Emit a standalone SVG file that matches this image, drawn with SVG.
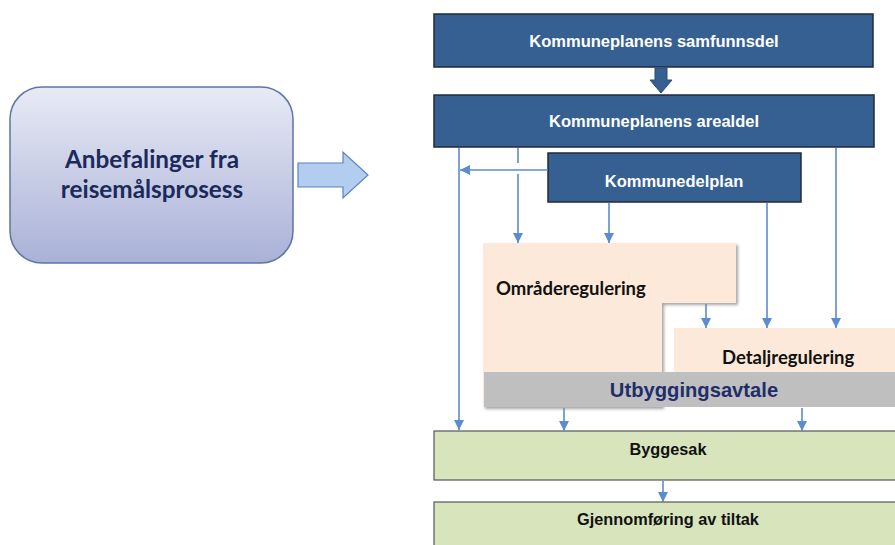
<svg xmlns="http://www.w3.org/2000/svg" width="895" height="545" viewBox="0 0 895 545">
<defs>
<linearGradient id="g1" x1="0" y1="0" x2="0" y2="1">
<stop offset="0" stop-color="#e8eaf5"/>
<stop offset="1" stop-color="#a9b1d7"/>
</linearGradient>
<marker id="ah" viewBox="0 0 10 10" refX="10" refY="5" markerWidth="10" markerHeight="10" markerUnits="userSpaceOnUse" orient="auto">
<path d="M0,0 L10,5 L0,10 z" fill="#5b8ccf"/>
</marker>
<filter id="sh" x="-10%" y="-10%" width="130%" height="130%">
<feDropShadow dx="2" dy="2" stdDeviation="1.5" flood-color="#000" flood-opacity="0.35"/>
</filter>
</defs>
<style>
.dk{fill:#366092;stroke:#1e2a3a;stroke-width:1.5}
.wt{font-family:"Liberation Sans",Arial,sans-serif;font-weight:bold;fill:#ffffff;text-anchor:middle;font-size:16.5px}
.bk{font-family:"Liberation Sans",Arial,sans-serif;font-weight:bold;fill:#111111;text-anchor:middle;font-size:16.3px}
.cal{font-family:Lato,"Open Sans",sans-serif;font-weight:bold;fill:#111111;font-size:18.5px}
.an{font-family:Lato,"Open Sans",sans-serif;font-weight:bold;fill:#1b2a5a;text-anchor:middle;font-size:24.3px}
.gr{fill:#d8e4bc;stroke:#555555;stroke-width:1.2}
.ln{stroke:#5b8ccf;stroke-width:1.6;fill:none}
</style>

<g id="anbefalinger">
<rect x="10" y="87" width="283" height="176" rx="32" ry="32" fill="url(#g1)" stroke="#5d74a6" stroke-width="1.5"/>
<text class="an" x="152" y="168">Anbefalinger fra</text>
<text class="an" x="152" y="198">reisemålsprosess</text>
</g>

<g id="blockarrow">
<path d="M298,163 L343,163 L343,152 L368,175 L343,198 L343,187 L298,187 z" fill="#b3cdf1" stroke="#5b82c0" stroke-width="1.2"/>
</g>

<g id="samfunnsdel">
<rect class="dk" x="434" y="14" width="439" height="53"/>
<text class="wt" x="654" y="47">Kommuneplanens samfunnsdel</text>
</g>

<g id="downarrow">
<path d="M655,68 L667,68 L667,80 L672,80 L661,93 L650,80 L655,80 z" fill="#366092" stroke="#2a4a75" stroke-width="1"/>
</g>

<g id="arealdel">
<rect class="dk" x="434" y="95" width="440" height="52"/>
<text class="wt" x="654" y="127">Kommuneplanens arealdel</text>
</g>

<g id="omraderegulering">
<path d="M483,243 L736,243 L736,303 L662,303 L662,407 L483,407 z" fill="#fde9d9" filter="url(#sh)"/>
<text class="cal" x="496" y="295">Områderegulering</text>
</g>

<g id="detaljregulering">
<rect x="674" y="328" width="221" height="50" fill="#fde9d9"/>
<text class="cal" x="722" y="364">Detaljregulering</text>
</g>

<g id="utbyggingsavtale">
<rect x="484" y="372" width="411" height="35" fill="#bfbfbf"/>
<text x="694" y="397" font-family="'Liberation Sans',Arial,sans-serif" font-weight="bold" font-size="20.2" fill="#1f2d6b" text-anchor="middle">Utbyggingsavtale</text>
</g>

<g id="kommunedelplan">
<rect class="dk" x="548" y="153" width="253" height="49"/>
<text class="wt" x="674" y="187">Kommunedelplan</text>
</g>

<g id="byggesak">
<rect class="gr" x="434" y="431" width="470" height="49"/>
<text class="bk" x="668" y="455">Byggesak</text>
</g>

<g id="gjennomforing">
<rect class="gr" x="434" y="502" width="470" height="60"/>
<text class="bk" x="668" y="525">Gjennomføring av tiltak</text>
</g>

<g id="connectors">
<line class="ln" x1="459" y1="148" x2="459" y2="430" marker-end="url(#ah)"/>
<line class="ln" x1="518" y1="148" x2="518" y2="163"/>
<line class="ln" x1="518" y1="174" x2="518" y2="243" marker-end="url(#ah)"/>
<line class="ln" x1="548" y1="170" x2="460" y2="170" marker-end="url(#ah)"/>
<line class="ln" x1="836" y1="148" x2="836" y2="328" marker-end="url(#ah)"/>
<line class="ln" x1="609" y1="203" x2="609" y2="243" marker-end="url(#ah)"/>
<line class="ln" x1="767" y1="203" x2="767" y2="328" marker-end="url(#ah)"/>
<line class="ln" x1="706" y1="304" x2="706" y2="328" marker-end="url(#ah)"/>
<line class="ln" x1="564" y1="408" x2="564" y2="431" marker-end="url(#ah)"/>
<line class="ln" x1="802" y1="408" x2="802" y2="431" marker-end="url(#ah)"/>
<line class="ln" x1="663" y1="481" x2="663" y2="502" marker-end="url(#ah)"/>
</g>
</svg>
